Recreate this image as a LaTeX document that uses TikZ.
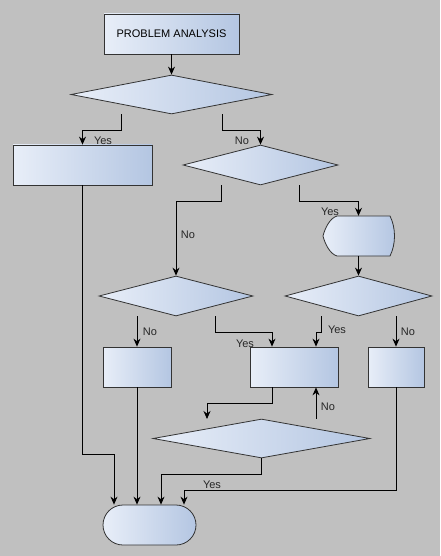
\documentclass[tikz,border=0pt]{standalone}
\usepackage{fontspec}
\setmainfont{Liberation Sans}
\usetikzlibrary{shapes.geometric,shapes.misc,arrows.meta,calc}
\definecolor{shL}{RGB}{232,238,248}
\definecolor{shR}{RGB}{180,198,226}
\definecolor{bg}{RGB}{192,192,192}
\begin{document}
\begin{tikzpicture}[x=1pt,y=-1pt,
  fillc/.style={left color=shL, right color=shR, draw=black!80, line width=0.8pt},
  box/.style={fillc, rectangle, inner sep=0pt},
  dia/.style={fillc, diamond, inner sep=0pt},
  arr/.style={line width=0.8pt, -{Stealth[length=8pt,width=7pt]}},
  lbl/.style={font=\fontsize{11}{13}\selectfont, inner sep=0pt, text=black!85}]
\fill[bg] (0,0) rectangle (440,556);
\useasboundingbox (0,0) rectangle (440,556);
\node[box, minimum width=135pt, minimum height=40pt, font=\fontsize{11}{13}\selectfont] (top) at (171.5,34) {PROBLEM ANALYSIS};
\node[dia, minimum width=201pt, minimum height=39pt] (d1) at (171.5,94.5) {};
\node[box, minimum width=139pt, minimum height=40pt] (bl) at (82.5,165) {};
\node[dia, minimum width=155pt, minimum height=40pt] (d2) at (260.5,165) {};
\coordinate (dispc) at (358.5,236);
\path[fillc] (337,216) -- (390,216) .. controls (396,228) and (396,244) .. (390,256) -- (337,256) .. controls (330,254) and (325,244) .. (323,236) .. controls (325,228) and (330,218) .. (337,216) -- cycle;
\node[inner sep=0pt, minimum width=71pt, minimum height=40pt] (disp) at (dispc) {};
\node[dia, minimum width=154pt, minimum height=40pt] (d3) at (176,296) {};
\node[dia, minimum width=147pt, minimum height=40pt] (d4) at (358.5,296) {};
\node[box, minimum width=68pt, minimum height=40pt] (ba) at (137,367) {};
\node[box, minimum width=88pt, minimum height=40pt] (bb) at (294,367) {};
\node[box, minimum width=56pt, minimum height=40pt] (bc) at (396,367) {};
\node[dia, minimum width=217pt, minimum height=39pt] (d5) at (261.5,438.5) {};
\node[fillc, rounded rectangle, inner sep=0pt, minimum width=93pt, minimum height=40pt] (term) at (149.5,525) {};
\coordinate (free) at (207,419);

\draw[arr] (top) -- (d1);
\draw[arr] ([xshift=-50.5pt]d1.south) |- ++(0,16) -| (bl.north);
\node[lbl] at (103,141) {Yes};
\draw[arr] ([xshift=50.5pt]d1.south) |- ++(0,16) -| (d2.north);
\node[lbl] at (242,141) {No};
\draw[arr] ([xshift=-39.5pt]d2.south) |- ++(0,16) -| (d3.north);
\node[lbl] at (188,235) {No};
\draw[arr] ([xshift=38.5pt]d2.south) |- ++(0,16) -| (disp.north);
\node[lbl] at (330,212) {Yes};
\draw[arr] (disp.south) -- (d4.north);
\draw[arr] (ba.north |- d3.south) -- (ba.north);
\node[lbl] at (150,332) {No};
\draw[arr] ([xshift=39pt]d3.south) |- ++(0,16) -| ([xshift=-22pt]bb.north);
\node[lbl] at (245,344) {Yes};
\draw[arr] ([xshift=-37.5pt]d4.south) |- ++(0,16) -| ([xshift=22pt]bb.north);
\node[lbl] at (337,330) {Yes};
\draw[arr] (bc.north |- d4.south) -- (bc.north);
\node[lbl] at (408,332) {No};
\draw[arr] ([xshift=-22pt]bb.south) |- ++(0,16) -| (free);
\draw[arr] ([xshift=22pt]bb.south |- d5.north) -- ([xshift=22pt]bb.south);
\node[lbl] at (328,407) {No};
\draw[arr] (d5.south) |- ++(0,16) -| ([xshift=11.5pt]term.north);
\draw[arr] (bl.south) |- ++(0,269) -| ([xshift=-35.5pt]term.north);
\draw[arr] (ba.south) -- ([xshift=-12.5pt]term.north);
\draw[arr] (bc.south) |- ++(0,103) -| ([xshift=34.5pt]term.north);
\node[lbl] at (212,485) {Yes};
\end{tikzpicture}
\end{document}
